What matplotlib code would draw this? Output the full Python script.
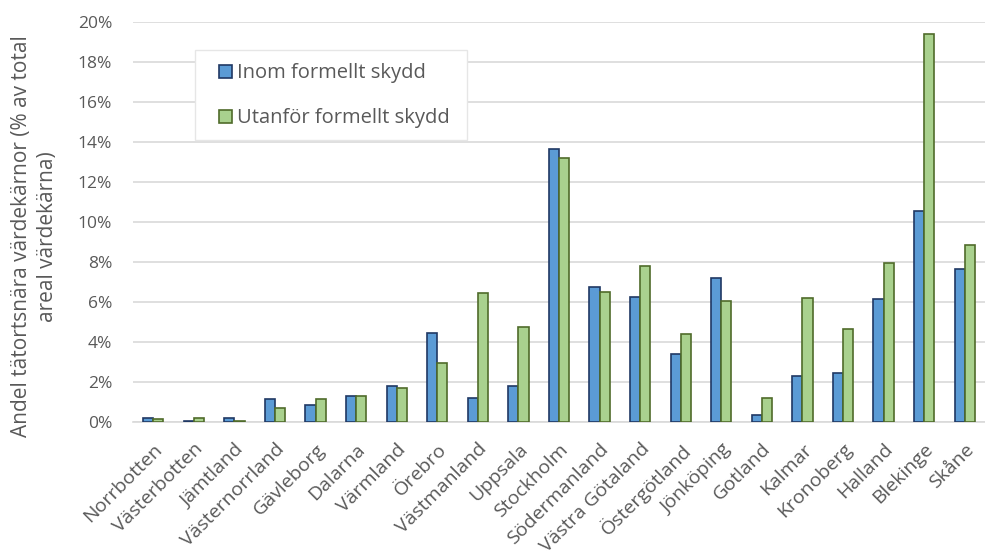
import matplotlib
matplotlib.use("Agg")
import matplotlib.pyplot as plt
import numpy as np
from matplotlib.ticker import FuncFormatter
from matplotlib.patches import Rectangle

plt.rcParams['font.family'] = ['Open Sans', 'DejaVu Sans']

regions = ["Norrbotten", "Västerbotten", "Jämtland", "Västernorrland", "Gävleborg",
           "Dalarna", "Värmland", "Örebro", "Västmanland", "Uppsala", "Stockholm",
           "Södermanland", "Västra Götaland", "Östergötland", "Jönköping", "Gotland",
           "Kalmar", "Kronoberg", "Halland", "Blekinge", "Skåne"]
inom = [0.22, 0.07, 0.18, 1.15, 0.87, 1.28, 1.82, 4.45, 1.22, 1.82, 13.65,
        6.77, 6.28, 3.42, 7.23, 0.33, 2.30, 2.45, 6.17, 10.55, 7.68]
utanfor = [0.17, 0.22, 0.07, 0.70, 1.15, 1.30, 1.72, 2.95, 6.45, 4.75, 13.23,
           6.53, 7.80, 4.38, 6.07, 1.22, 6.22, 4.67, 7.95, 19.43, 8.85]
series_names = ["Inom formellt skydd", "Utanför formellt skydd"]

fig = plt.figure(figsize=(9.85, 5.52), dpi=100)
ax = fig.add_axes([0.135, 0.2355, 0.865, 0.724])

x = np.arange(len(regions))
w = 0.25
ax.bar(x - w/2, inom, w, color="#5B9BD5", edgecolor="#203864", linewidth=1.2,
       label=series_names[0], zorder=3)
ax.bar(x + w/2, utanfor, w, color="#A9D18E", edgecolor="#4F6B2A", linewidth=1.2,
       label=series_names[1], zorder=3)

ax.set_xlim(-0.5, len(regions) - 0.5)
ax.set_ylim(0, 20)
ax.set_yticks(np.arange(0, 21, 2))
ax.yaxis.set_major_formatter(FuncFormatter(lambda v, p: f"{v:.0f}%"))
ax.grid(axis='y', color="#D9D9D9", linewidth=1.2, zorder=0)
for s in ['top', 'right', 'left']:
    ax.spines[s].set_visible(False)
ax.spines['bottom'].set_color("#D9D9D9")
ax.spines['bottom'].set_linewidth(1.2)
ax.tick_params(axis='both', length=0, colors="#595959")
ax.tick_params(axis='y', labelsize=12.5, pad=15)
ax.set_xticks(x)
ax.set_xticklabels(regions, rotation=45, ha='right', rotation_mode='anchor')
ax.tick_params(axis='x', labelsize=14, pad=13)

ax.set_ylabel("Andel tätortsnära värdekärnor (% av total\nareal värdekärna)",
              fontsize=15, color="#595959", linespacing=1.3)
ax.yaxis.set_label_coords(-0.088, 0.465)

# legend box
ax.add_patch(Rectangle((0.0728, 0.705), 0.319, 0.225, transform=ax.transAxes,
                       facecolor="white", edgecolor="#E6E6E6", linewidth=1.0,
                       zorder=5))
leg = ax.legend(loc='upper left', bbox_to_anchor=(0.101, 0.8975), borderaxespad=0,
                frameon=False, fontsize=14.5, labelcolor="#595959",
                handlelength=0.65, handleheight=0.65, handletextpad=0.25,
                labelspacing=1.25, borderpad=0)
leg.set_zorder(6)

fig.savefig("out.png", dpi=100)
